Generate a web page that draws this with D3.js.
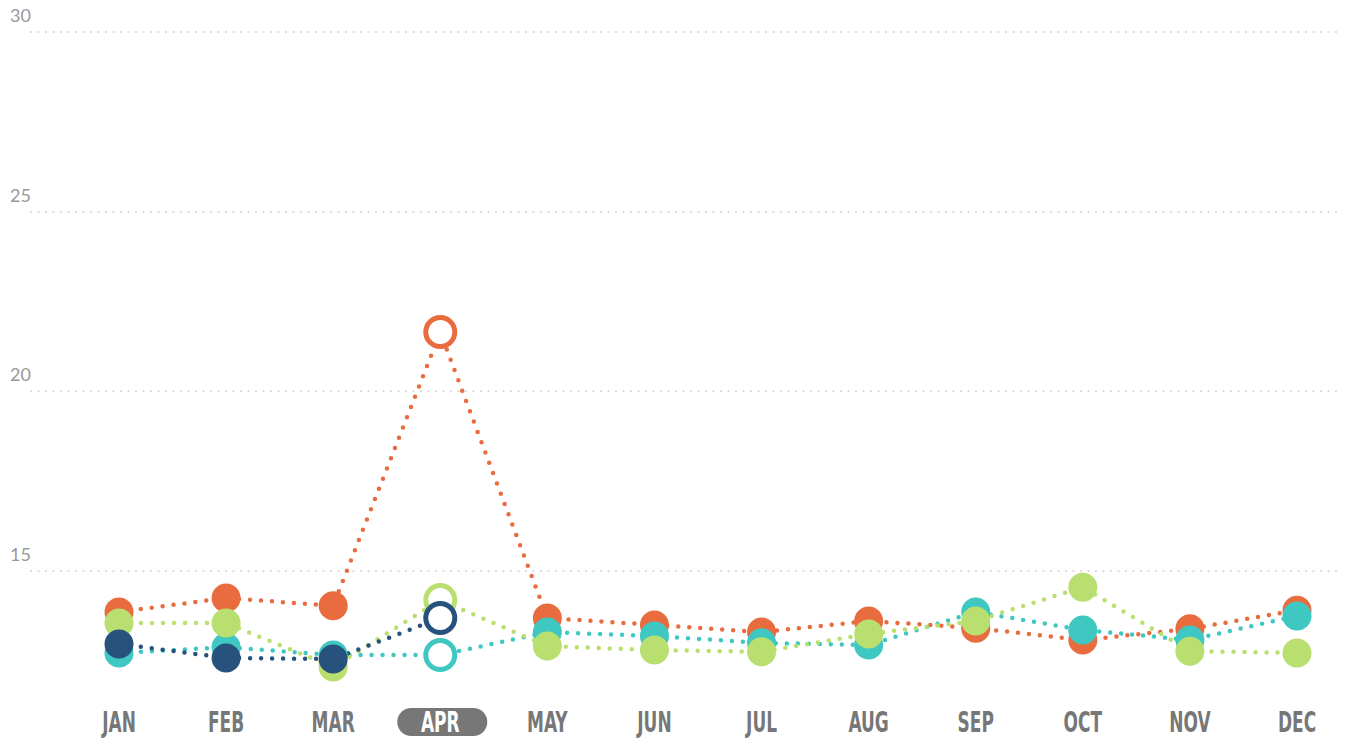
<!DOCTYPE html>
<html>
<head>
<style>
  body{
    margin: 0;
    background: #fff;
  }
</style>
</head>
<body>
<svg id='svgVis'></svg>

<script src="https://d3js.org/d3.v7.min.js"></script>
<script>

var width = 1350,
    height = 738;

var months = ['JAN','FEB','MAR','APR','MAY','JUN','JUL','AUG','SEP','OCT','NOV','DEC'];
var yTicks = [15, 20, 25, 30];
var activeMonth = 'APR';

// one array per series, drawn bottom to top
var orangeValues = [13.86, 14.25, 14.03, 21.65, 13.69, 13.50, 13.30, 13.61, 13.41, 13.08, 13.39, 13.91];
var tealValues   = [12.72, 12.88, 12.66, 12.66, 13.30, 13.19, 13.00, 12.94, 13.86, 13.36, 13.08, 13.75];
var greenValues  = [13.55, 13.55, 12.33, 14.19, 12.91, 12.80, 12.75, 13.25, 13.61, 14.55, 12.77, 12.72];
var navyValues   = [12.97, 12.58, 12.55, 13.69];

var series = [
  {name: 'orange', color: '#e96c3f', values: orangeValues},
  {name: 'teal',   color: '#3fc7c2', values: tealValues},
  {name: 'green',  color: '#b9df70', values: greenValues},
  {name: 'navy',   color: '#27527d', values: navyValues}
];

var svg = d3.select('#svgVis')
    .attr('width', width)
    .attr('height', height);

var x = d3.scalePoint()
    .domain(months)
    .range([119, 1297]);

var y = d3.scaleLinear()
    .domain([15, 30])
    .range([571, 32]);

// grid
var grid = svg.append('g');

grid.selectAll('line')
  .data(yTicks)
  .enter()
  .append('line')
  .attr('x1', 31)
  .attr('x2', 1340)
  .attr('y1', function(d) { return y(d); })
  .attr('y2', function(d) { return y(d); })
  .style('stroke', '#d2d2d2')
  .style('stroke-width', 2)
  .style('stroke-linecap', 'round')
  .style('stroke-dasharray', '0 7.5');

grid.selectAll('text')
  .data(yTicks)
  .enter()
  .append('text')
  .attr('x', 10)
  .attr('y', function(d) { return y(d) - 10; })
  .style('font-family', 'Lato, sans-serif')
  .style('font-size', '18px')
  .style('fill', '#999')
  .text(function(d) { return d; });

// month labels
var axis = svg.append('g');

axis.append('rect')
  .attr('x', x(activeMonth) - 43)
  .attr('y', 708)
  .attr('width', 90)
  .attr('height', 28)
  .attr('rx', 14)
  .style('fill', '#777');

axis.selectAll('text')
  .data(months)
  .enter()
  .append('text')
  .attr('transform', function(d) {
    return 'translate(' + x(d) + ',732) scale(0.7,1.05)';
  })
  .style('text-anchor', 'middle')
  .style('font-family', "'Liberation Sans Narrow', 'DejaVu Sans Condensed', sans-serif")
  .style('font-weight', 'bold')
  .style('font-size', '27px')
  .style('fill', function(d) { return d == activeMonth ? '#fff' : '#777'; })
  .text(function(d) { return d; });

// dotted lines
var line = d3.line()
    .x(function(d, i) { return x(months[i]); })
    .y(function(d) { return y(d); });

svg.append('g').selectAll('path')
  .data(series)
  .enter()
  .append('path')
  .attr('d', function(d) { return line(d.values); })
  .style('fill', 'none')
  .style('stroke', function(d) { return d.color; })
  .style('stroke-width', 4.5)
  .style('stroke-linecap', 'round')
  .style('stroke-dasharray', '0 11');

// points, hollow for the selected month
series.forEach(function(s) {
  svg.append('g').selectAll('circle')
    .data(s.values)
    .enter()
    .append('circle')
    .attr('cx', function(d, i) { return x(months[i]); })
    .attr('cy', function(d) { return y(d); })
    .attr('r', 14.5)
    .style('fill', function(d, i) { return months[i] == activeMonth ? '#fff' : s.color; })
    .style('stroke', function(d, i) { return months[i] == activeMonth ? s.color : 'none'; })
    .style('stroke-width', 5);
});

</script>
</body>
</html>
